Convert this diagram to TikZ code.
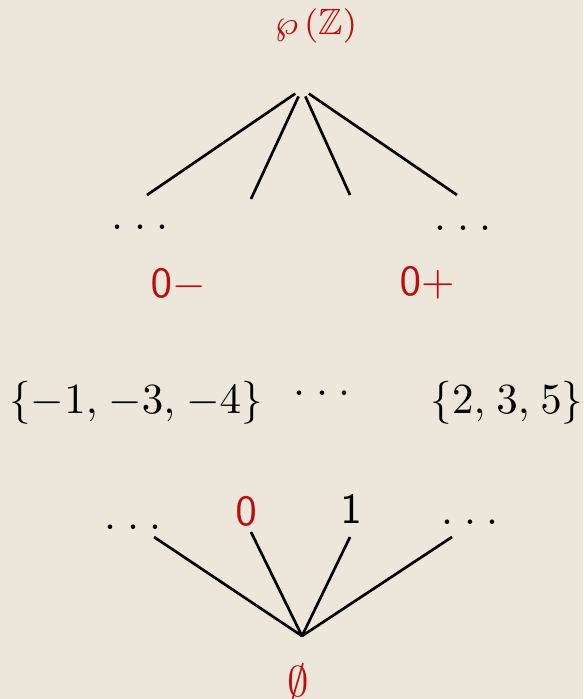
\documentclass[tikz,border=0pt]{standalone}
\usepackage{amssymb}
\definecolor{paper}{RGB}{237,231,219}
\definecolor{labred}{RGB}{190,12,12}
\newcommand{\latdots}{.\kern0.25em.\kern0.25em.}

\begin{document}
\begin{tikzpicture}[x=0.2326pt, y=-0.2326pt,
    edge/.style={line width=0.62pt},
    redlab/.style={text=labred, inner sep=0pt, anchor=base},
    blacklab/.style={inner sep=0pt, anchor=base}]
    % paper background
    \fill[paper] (0,0) rectangle (583,699);
    \useasboundingbox (0,0) rectangle (583,699);

    % top of the lattice
    \node[redlab, font=\fontsize{8.5}{10}\selectfont] (pz) at (316,35) {$\wp\,(\mathbb{Z})$};
    \node[circle, inner sep=0pt, minimum size=3.4pt] (hub) at (302,89) {};
    \coordinate (t1) at (147,195);
    \coordinate (t2) at (251,199);
    \coordinate (t3) at (350,195);
    \coordinate (t4) at (457,195);
    \foreach \t in {t1,t2,t3,t4}
        \draw[edge] (hub) -- (\t);

    \node[blacklab] (dotsTL) at (140,230) {\latdots};
    \node[blacklab] (dotsTR) at (463,231) {\latdots};
    \node[redlab] (zminus) at (178,298) {$\mathsf{0}-$};
    \node[redlab] (zplus) at (427,296) {$\mathsf{0}+$};

    % middle row
    \node[blacklab, font=\fontsize{10.3}{12}\selectfont] (setL) at (136,413) {$\{-1,\mkern1.5mu-3,\mkern1.5mu-4\}$};
    \node[blacklab] (dotsM) at (322,395) {\latdots};
    \node[blacklab, font=\fontsize{10.3}{12}\selectfont] (setR) at (507,413) {$\{2,\mkern1.5mu3,\mkern1.5mu5\}$};

    % bottom of the lattice
    \node[blacklab] (dotsBL) at (133,529) {\latdots};
    \node[redlab] (zero) at (246,525) {$\mathsf{0}$};
    \node[blacklab] (one) at (351,523) {$\mathsf{1}$};
    \node[blacklab] (dotsBR) at (470,524) {\latdots};
    \node[redlab] (empty) at (298,696) {$\emptyset$};

    \coordinate (bot) at (302,636);
    \coordinate (b1) at (154,537);
    \coordinate (b2) at (251,532);
    \coordinate (b3) at (350,537);
    \coordinate (b4) at (452,537);
    \foreach \b in {b1,b2,b3,b4}
        \draw[edge] (bot) -- (\b);
\end{tikzpicture}
\end{document}
